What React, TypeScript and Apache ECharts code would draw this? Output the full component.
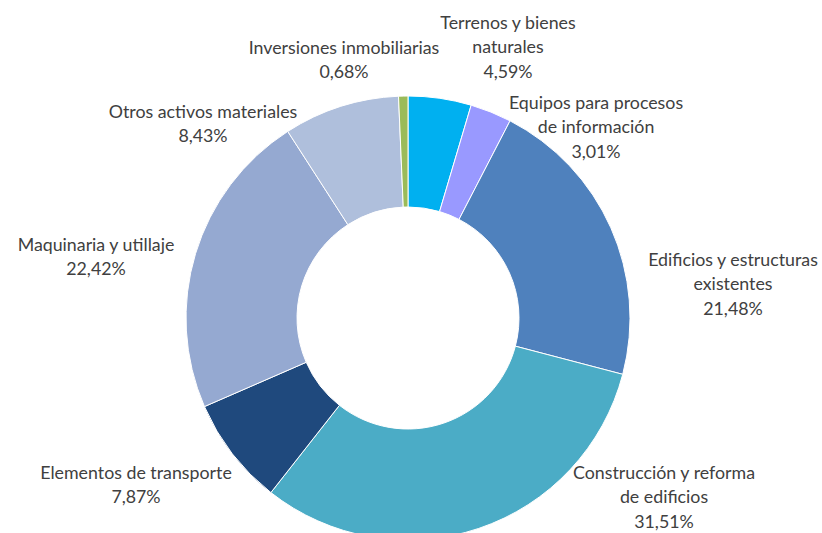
import React, { useEffect, useRef } from "react";
import * as echarts from "echarts";

const categories = [
  "Terrenos y bienes\nnaturales",
  "Equipos para procesos\nde información",
  "Edificios y estructuras\nexistentes",
  "Construcción y reforma\nde edificios",
  "Elementos de transporte",
  "Maquinaria y utillaje",
  "Otros activos materiales",
  "Inversiones inmobiliarias",
];
const values = [4.59, 3.01, 21.48, 31.51, 7.87, 22.42, 8.43, 0.68];
const colors = ["#00B0F0", "#9999FF", "#4F81BD", "#4BACC6", "#1F497D", "#95A9D1", "#AFBFDC", "#9BBB59"];
const labelCenters: [number, number][] = [
  [508, 46],
  [596, 126],
  [733, 283],
  [664, 496],
  [136, 484],
  [96, 256],
  [203, 123],
  [344, 59],
];

export default function App() {
  const ref = useRef<HTMLDivElement>(null);
  useEffect(() => {
    if (!ref.current) return;
    const chart = echarts.init(ref.current, undefined, { renderer: "svg" });
    chart.setOption({
      animation: false,
      backgroundColor: "#ffffff",
      series: [
        {
          type: "pie",
          center: [408, 318],
          radius: [111, 222],
          startAngle: 90,
          clockwise: true,
          avoidLabelOverlap: false,
          itemStyle: { borderColor: "#ffffff", borderWidth: 1 },
          label: {
            show: true,
            position: "outside",
            formatter: (p: any) => `${p.name}\n${values[p.dataIndex].toFixed(2).replace(".", ",")}%`,
            fontFamily: "Lato, 'Open Sans', sans-serif",
            fontSize: 17.8,
            lineHeight: 24.5,
            color: "#404040",
            align: "center",
          },
          labelLine: { show: false },
          labelLayout: (params: any) => {
            const c = labelCenters[params.dataIndex];
            return { x: c[0], y: c[1], align: "center", verticalAlign: "middle" };
          },
          data: categories.map((name, i) => ({
            name,
            value: values[i],
            itemStyle: { color: colors[i] },
          })),
        },
      ],
    });
    return () => chart.dispose();
  }, []);
  return (
    <div
      ref={ref}
      style={{ position: "fixed", left: 0, top: 0, width: 822, height: 533 }}
    />
  );
}
